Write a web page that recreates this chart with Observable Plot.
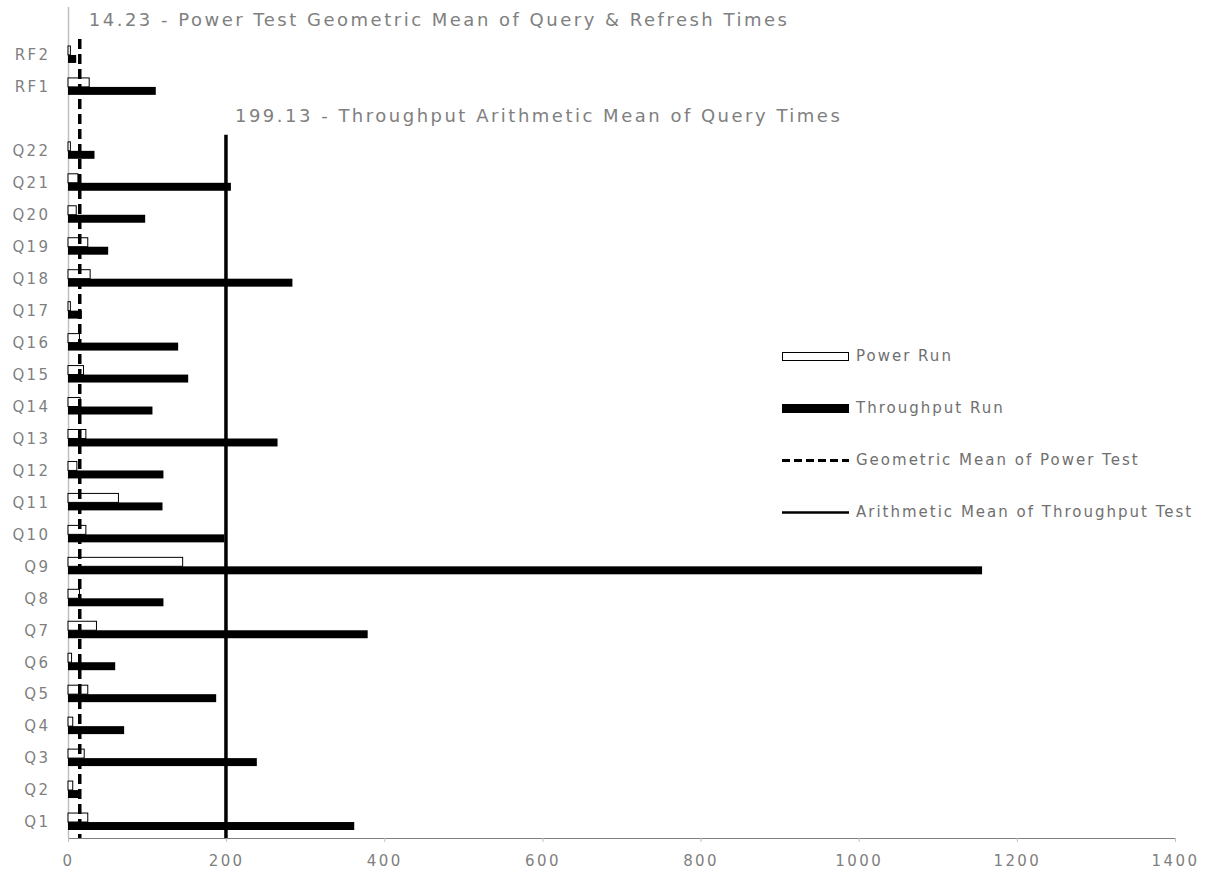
<!DOCTYPE html>
<html>
<head>
<meta charset="utf-8">
<script src="https://cdn.jsdelivr.net/npm/d3@7"></script>
<script src="https://cdn.jsdelivr.net/npm/@observablehq/plot@0.6"></script>
<style>
  body { margin: 0; background: #fff; }
  #wrap { position: relative; width: 1206px; height: 869px; overflow: hidden; }
  #chart svg text { letter-spacing: 2.4px; }
  #chart svg .meanLabel text { letter-spacing: 2.5px; }
  #chart svg g[aria-label="x-axis tick"], #chart svg g[aria-label="x-axis line"], #chart svg g[aria-label="frame"] { stroke: #bfbfbf; }
  #legend { position: absolute; left: 0; top: 0; font-family: "DejaVu Sans"; font-size: 15px; color: #6f6f6f; letter-spacing: 2px; }
  #legend .item { position: absolute; display: flex; align-items: center; white-space: nowrap; height: 20px; }
  #legend svg { display: block; margin-right: 7px; }
</style>
</head>
<body>
<div id="wrap"><div id="chart"></div><div id="legend"></div></div>
<script>
// ---- data ----
const categories = ["Q1","Q2","Q3","Q4","Q5","Q6","Q7","Q8","Q9","Q10","Q11","Q12","Q13","Q14","Q15","Q16","Q17","Q18","Q19","Q20","Q21","Q22","RF1","RF2"];
const powerRun =      [25, 6, 20.5, 6, 25, 4.5, 36, 14.5, 145, 22.6, 63.8, 11.2, 22.6, 15.4, 19.6, 14.5, 3, 28, 25, 10.4, 12.5, 3, 26.8, 3];
const throughputRun = [362, 16.3, 238.8, 71, 187.4, 59.7, 379, 120.7, 1156, 197.7, 119.5, 120.7, 265, 106.8, 152, 139.3, 17.5, 283.8, 50.8, 97.6, 206, 33.5, 111, 10.4];
// row order top to bottom (blank rows hold the mean labels)
const rowOrder = ["_top","RF2","RF1","_gap","Q22","Q21","Q20","Q19","Q18","Q17","Q16","Q15","Q14","Q13","Q12","Q11","Q10","Q9","Q8","Q7","Q6","Q5","Q4","Q3","Q2","Q1"];
const meanValues = [14.23, 199.13];
const meanLabels = ["14.23 - Power Test Geometric Mean of Query & Refresh Times", "199.13 - Throughput Arithmetic Mean of Query Times"];
const meanLabelRows = ["_top", "_gap"];
const meanRuleFrom = ["RF2", "Q22"];
const meanRuleTo = ["Q1", "Q1"];
const meanDash = ["10,5", null];
const xTicks = [0, 200, 400, 600, 800, 1000, 1200, 1400];
const legendLabels = ["Power Run", "Throughput Run", "Geometric Mean of Power Test", "Arithmetic Mean of Throughput Test"];

// ---- tables built from the arrays ----
const rows = categories.map((c, i) => ({cat: c, power: powerRun[i], throughput: throughputRun[i]}));
const means = meanValues.map((v, i) => ({value: v, label: meanLabels[i], row: meanLabelRows[i], from: meanRuleFrom[i], to: meanRuleTo[i], dash: meanDash[i]}));

const chart = Plot.plot({
  width: 1206,
  height: 869,
  marginLeft: 68,
  marginRight: 31,
  marginTop: 7,
  marginBottom: 31,
  style: {fontFamily: "DejaVu Sans", fontSize: "15px", color: "#7f7f7f", background: "#fff", overflow: "visible"},
  x: {domain: [0, 1400], ticks: xTicks, tickSize: 4, tickPadding: 13, line: true, label: null, tickFormat: d => String(d)},
  y: {type: "band", domain: rowOrder, padding: 0, round: false, tickSize: 0, tickPadding: 18, label: null,
      tickFormat: d => d.startsWith("_") ? "" : d},
  marks: [
    Plot.ruleX([0], {stroke: "#bfbfbf", strokeWidth: 1.5}),
    Plot.barX(rows, {y: "cat", x: "power", fill: "white", stroke: "black", strokeWidth: 1, insetTop: 7, insetBottom: 16}),
    Plot.barX(rows, {y: "cat", x: "throughput", fill: "black", insetTop: 16, insetBottom: 8}),
    Plot.ruleX(means.filter(d => d.dash), {x: "value", y1: "from", y2: "to", stroke: "black", strokeWidth: 3.5, strokeDasharray: "10,5"}),
    Plot.ruleX(means.filter(d => !d.dash), {x: "value", y1: "from", y2: "to", stroke: "black", strokeWidth: 3.5}),
    Plot.text(means, {x: "value", y: "row", text: "label", textAnchor: "start", dx: 9, dy: -3, fontSize: 18, fill: "#808080", className: "meanLabel"})
  ]
});
document.getElementById("chart").appendChild(chart);

// ---- legend (overlay) ----
const legend = d3.select("#legend");
const legendTops = [346, 398, 450, 502];
legendLabels.forEach((lab, i) => {
  const item = legend.append("div").attr("class", "item").style("left", "782px").style("top", legendTops[i] + "px");
  const sw = item.append("svg").attr("width", 67).attr("height", 20);
  if (i === 0) sw.append("rect").attr("x", 0.5).attr("y", 6.5).attr("width", 66).attr("height", 8).attr("fill", "white").attr("stroke", "black");
  if (i === 1) sw.append("rect").attr("x", 0).attr("y", 6).attr("width", 67).attr("height", 9).attr("fill", "black");
  if (i === 2) sw.append("line").attr("x1", 0).attr("x2", 67).attr("y1", 10.5).attr("y2", 10.5).attr("stroke", "black").attr("stroke-width", 3).attr("stroke-dasharray", "8,4");
  if (i === 3) sw.append("line").attr("x1", 0).attr("x2", 67).attr("y1", 10.5).attr("y2", 10.5).attr("stroke", "black").attr("stroke-width", 2.5);
  item.append("span").text(lab);
});
</script>
</body>
</html>
